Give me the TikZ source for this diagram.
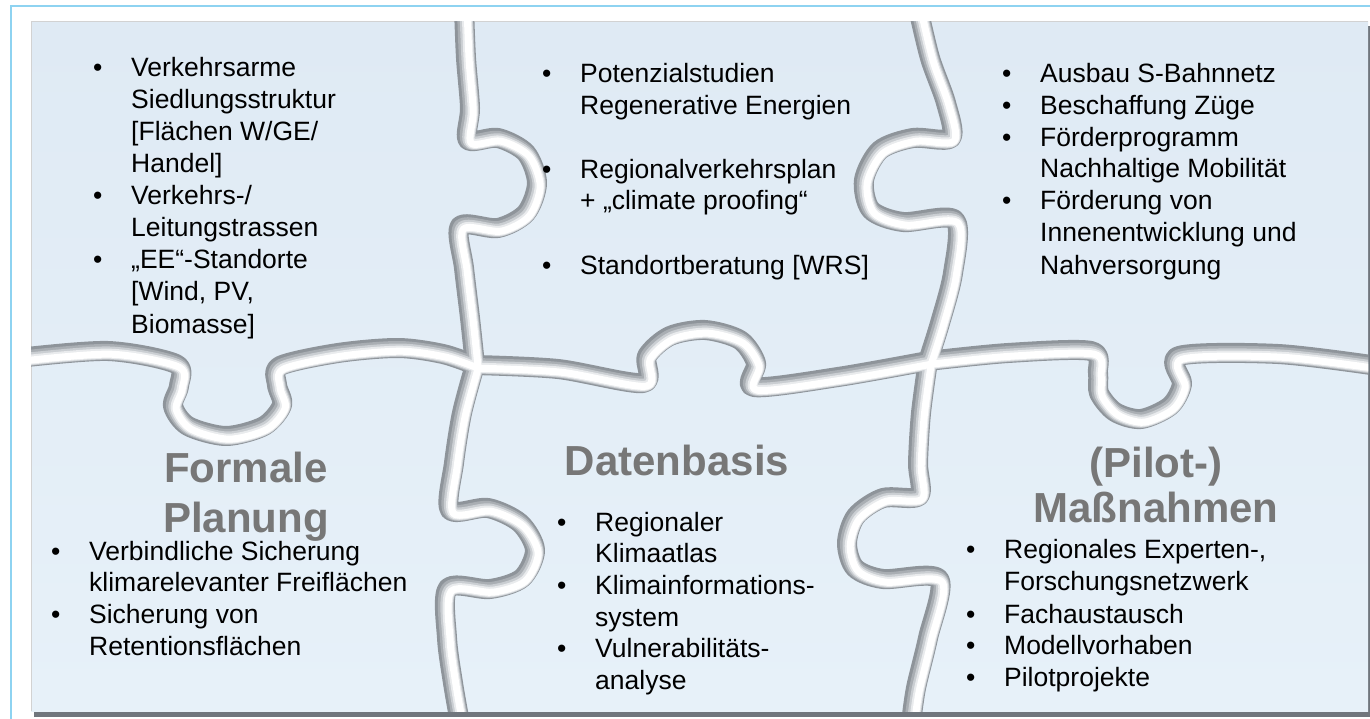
\documentclass[tikz,border=0pt]{standalone}
\usepackage{fontspec}
\setmainfont{Liberation Sans}
\definecolor{framecol}{HTML}{8ED3F1}
\definecolor{pztop}{HTML}{DFEAF4}
\definecolor{pzbot}{HTML}{E7F1F9}
\definecolor{sgA}{HTML}{8E949A}
\definecolor{sgB}{HTML}{A9AEB3}
\definecolor{sgC}{HTML}{CACED2}
\definecolor{sgD}{HTML}{E9EBED}
\definecolor{headgray}{HTML}{777777}
\definecolor{shadowgray}{HTML}{70767D}
\newcommand\bl{\makebox[38pt][l]{\textbullet}}
\begin{document}
\begin{tikzpicture}[x=1pt,y=-1pt,
  txt/.style={inner sep=0pt, anchor=base west, font=\fontsize{26.5}{32}\selectfont, text=black},
  head/.style={inner sep=0pt, anchor=base, font=\bfseries\fontsize{42}{50}\selectfont, text=headgray},
  seam/.style={line cap=round, line join=round}]
\useasboundingbox (0,0) rectangle (1370,719);
\fill[white] (0,0) rectangle (1370,719);
\draw[framecol, line width=2pt] (11,6) rectangle (1400,740);
% puzzle body
\fill[shadowgray] (34,26) rectangle (1371,717);
\shade[top color=pztop, bottom color=pzbot] (31,22) rectangle (1368,711);
\draw[gray!35, line width=1pt] (31,711) -- (31,22) -- (1368,22);
% seams
\begin{scope}
\clip (31,22) rectangle (1368,711);
\foreach \w/\c/\s in {20/sgA/-2, 16/sgB/-1, 13/sgC/0, 10/sgD/0.7, 7/white/1.2} {
\draw[seam, line width=\w pt, color=\c, shift={(\s,\s)}]
  plot[smooth] coordinates {(466,10) (468,60) (472,110) (470,142) (500,140) (528,155) (539,185) (528,215) (500,230) (462,228) (466,270) (472,320) (477,367)}
  plot[smooth] coordinates {(477,367) (464,415) (456,465) (452,512) (490,510) (522,525) (537,552) (524,580) (492,591) (450,590) (449,640) (455,685) (462,725)}
  plot[smooth] coordinates {(920,10) (932,60) (948,105) (953,140) (915,140) (882,152) (866,182) (873,212) (905,224) (957,222) (955,275) (942,325) (930,363)}
  plot[smooth] coordinates {(930,363) (923,415) (920,465) (921,498) (885,500) (858,518) (849,545) (857,570) (885,581) (941,581) (930,640) (918,690) (913,725)}
  plot[smooth] coordinates {(20,360) (110,353) (178,366) (181,388) (175,408) (190,428) (228,438) (266,428) (284,407) (279,387) (282,368) (340,355) (400,350) (445,356) (477,367)}
  plot[smooth] coordinates {(477,367) (560,371) (645,385) (649,358) (672,338) (707,332) (742,342) (758,365) (756,389) (840,379) (930,363)}
  plot[smooth] coordinates {(930,363) (1010,355) (1093,353) (1100,375) (1101,395) (1117,414) (1143,421) (1172,408) (1184,386) (1181,358) (1280,356) (1380,368)};
}
\end{scope}
% top left
\node[txt] (tl1) at (93,77) {\bl Verkehrsarme};
\node[txt] (tl2) at (131,109) {Siedlungsstruktur};
\node[txt] (tl3) at (131,141) {[Flächen W/GE/};
\node[txt] (tl4) at (131,173) {Handel]};
\node[txt] (tl5) at (93,205) {\bl Verkehrs-/};
\node[txt] (tl6) at (131,237) {Leitungstrassen};
\node[txt] (tl7) at (93,269) {\bl „EE“-Standorte};
\node[txt] (tl8) at (131,301) {[Wind, PV,};
\node[txt] (tl9) at (131,333) {Biomasse]};
% top middle
\node[txt] (tm1) at (542,83) {\bl Potenzialstudien};
\node[txt] (tm2) at (580,115) {Regenerative Energien};
\node[txt] (tm3) at (542,179) {\bl Regionalverkehrsplan};
\node[txt] (tm4) at (580,210) {+ „climate proofing“};
\node[txt] (tm5) at (542,275) {\bl Standortberatung [WRS]};
% top right
\node[txt] (tr1) at (1002,83) {\bl Ausbau S-Bahnnetz};
\node[txt] (tr2) at (1002,115) {\bl Beschaffung Züge};
\node[txt] (tr3) at (1002,147) {\bl Förderprogramm};
\node[txt] (tr4) at (1040,178) {Nachhaltige Mobilität};
\node[txt] (tr5) at (1002,210) {\bl Förderung von};
\node[txt] (tr6) at (1040,242) {Innenentwicklung und};
\node[txt] (tr7) at (1040,274) {Nahversorgung};
% bottom left
\node[head] (h1a) at (246,482) {Formale};
\node[head] (h1b) at (246,532) {Planung};
\node[txt] (bl1) at (51,560) {\bl Verbindliche Sicherung};
\node[txt] (bl2) at (89,591) {klimarelevanter Freiflächen};
\node[txt] (bl3) at (51,623) {\bl Sicherung von};
\node[txt] (bl4) at (89,655) {Retentionsflächen};
% bottom middle
\node[head] (h2) at (677,475) {Datenbasis};
\node[txt] (bm1) at (557,531) {\bl Regionaler};
\node[txt] (bm2) at (595,562) {Klimaatlas};
\node[txt] (bm3) at (557,594) {\bl Klimainformations-};
\node[txt] (bm4) at (595,626) {system};
\node[txt] (bm5) at (557,657) {\bl Vulnerabilitäts-};
\node[txt] (bm6) at (595,689) {analyse};
% bottom right
\node[head] (h3a) at (1156,477) {(Pilot-)};
\node[head] (h3b) at (1156,522) {Maßnahmen};
\node[txt] (br1) at (966,558) {\bl Regionales Experten-,};
\node[txt] (br2) at (1004,590) {Forschungsnetzwerk};
\node[txt] (br3) at (966,623) {\bl Fachaustausch};
\node[txt] (br4) at (966,654) {\bl Modellvorhaben};
\node[txt] (br5) at (966,686) {\bl Pilotprojekte};
\end{tikzpicture}
\end{document}
